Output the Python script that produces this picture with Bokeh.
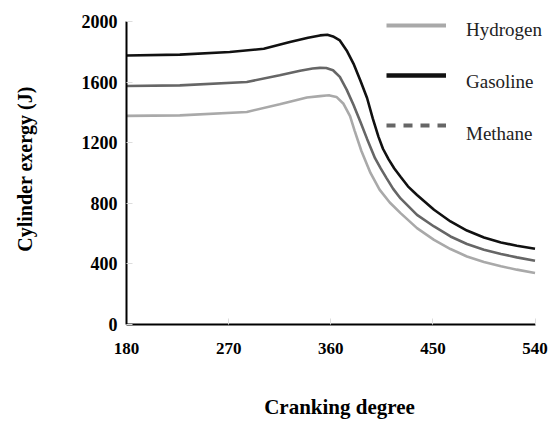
from bokeh.plotting import figure
from bokeh.models import Range1d, Legend, LegendItem, FixedTicker
from bokeh.embed import file_html
from bokeh.resources import INLINE

# ---- data ----
gas_x = [180, 227, 271, 301, 324, 340, 350.5, 357, 362, 368, 374, 380, 386, 392, 397,
         402, 406, 411, 416, 421.5, 428, 436, 451, 465.5, 480, 495, 510, 524, 540]
gas_y = [1775, 1781, 1798, 1820, 1864, 1893, 1908, 1912, 1901, 1875, 1809, 1722, 1612,
         1495, 1360, 1240, 1160, 1090, 1030, 975, 912, 855, 757, 680, 620, 574, 541, 520, 500]

met_x = [180, 227, 286, 315, 333, 344, 350.5, 356, 362, 368, 374, 380, 386, 392, 399,
         404, 409, 415, 421.5, 436, 451, 465.5, 480, 495, 510, 524, 540]
met_y = [1574, 1578, 1601, 1645, 1675, 1690, 1694, 1693, 1678, 1634, 1550, 1450, 1340,
         1225, 1098, 1030, 968, 895, 832, 724, 647, 581, 531, 493, 465, 443, 421]

hyd_x = [180, 227, 286, 315, 339, 350.5, 356, 359, 365, 371, 377, 381, 387, 395, 403,
         412, 421.5, 436, 451, 465.5, 480, 495, 510, 524, 540]
hyd_y = [1377, 1380, 1403, 1454, 1498, 1507, 1511, 1512, 1502, 1459, 1375, 1280, 1145,
         1000, 890, 805, 735, 636, 559, 498, 449, 412, 384, 362, 340]

x_ticks = [180, 270, 360, 450, 540]
y_ticks = [0, 400, 800, 1200, 1600, 2000]
series_names = ["Hydrogen", "Gasoline", "Methane"]
x_title = "Cranking degree"
y_title = "Cylinder exergy (J)"

FONT = "Liberation Serif"
C_HYD = "#a9a9a9"
C_GAS = "#111111"
C_MET = "#666666"

p = figure(width=552, height=421, output_backend="svg", toolbar_location=None,
           x_range=Range1d(180, 555.4), y_range=Range1d(0, 2052.6),
           min_border_left=126, min_border_right=0, min_border_top=13,
           min_border_bottom=96)
p.outline_line_color = None
p.xgrid.visible = False
p.ygrid.visible = False
p.background_fill_color = "white"
p.border_fill_color = "white"

p.line(hyd_x, hyd_y, line_color=C_HYD, line_width=2.6)
p.line(met_x, met_y, line_color=C_MET, line_width=2.6)
p.line(gas_x, gas_y, line_color=C_GAS, line_width=2.6)

# legend sample lines (the legend shows methane dashed)
nan = float("nan")
lh = p.line([nan], [nan], line_color=C_HYD, line_width=4)
lg = p.line([nan], [nan], line_color=C_GAS, line_width=4.5)
lm = p.line([nan], [nan], line_color=C_MET, line_width=4, line_dash="9 8")
legend_lines = Legend(items=[LegendItem(label=" ", renderers=[lh]),
                             LegendItem(label=" ", renderers=[lg]),
                             LegendItem(label=" ", renderers=[lm])],
                      location=(260, 186), orientation="vertical",
                      glyph_width=60, glyph_height=26, label_height=26, spacing=24,
                      label_standoff=20, padding=0, margin=0,
                      border_line_color=None, background_fill_alpha=0,
                      label_text_font=FONT, label_text_font_size="19px")
p.add_layout(legend_lines, "center")

# legend labels (sit a little below their sample lines, as in the reference)
th = p.line([nan], [nan], line_alpha=0)
tg = p.line([nan], [nan], line_alpha=0)
tm = p.line([nan], [nan], line_alpha=0)
legend_text = Legend(items=[LegendItem(label=series_names[0], renderers=[th]),
                            LegendItem(label=series_names[1], renderers=[tg]),
                            LegendItem(label=series_names[2], renderers=[tm])],
                     location=(260, 171), orientation="vertical",
                     glyph_width=60, glyph_height=26, label_height=38, spacing=14,
                     label_standoff=20, padding=0, margin=0,
                     border_line_color=None, background_fill_alpha=0,
                     label_text_font=FONT, label_text_font_size="19px",
                     label_text_color="#222222")
p.add_layout(legend_text, "center")

for ax in (p.xaxis[0], p.yaxis[0]):
    ax.axis_line_color = "black"
    ax.axis_line_width = 2
    ax.major_tick_in = 6
    ax.major_tick_out = 0
    ax.major_tick_line_color = "#dddddd"
    ax.minor_tick_line_color = None
    ax.major_label_text_font = FONT
    ax.major_label_text_font_style = "bold"
    ax.major_label_text_color = "black"
    ax.axis_label_text_font = FONT
    ax.axis_label_text_font_style = "bold"
    ax.axis_label_text_color = "black"

p.xaxis.ticker = FixedTicker(ticks=x_ticks)
p.xaxis.bounds = (180, 540)
p.xaxis.major_label_text_font_size = "17px"
p.xaxis.major_label_standoff = 18
p.xaxis.axis_label = x_title
p.xaxis.axis_label_text_font_size = "21px"
p.xaxis.axis_label_standoff = 38

p.yaxis.ticker = FixedTicker(ticks=y_ticks)
p.yaxis.bounds = (0, 2000)
p.yaxis.major_label_text_font_size = "18px"
p.yaxis.major_label_standoff = 9
p.yaxis.axis_label = y_title
p.yaxis.axis_label_text_font_size = "20px"
p.yaxis.axis_label_standoff = 43

open("out.html", "w").write(file_html(p, INLINE))
